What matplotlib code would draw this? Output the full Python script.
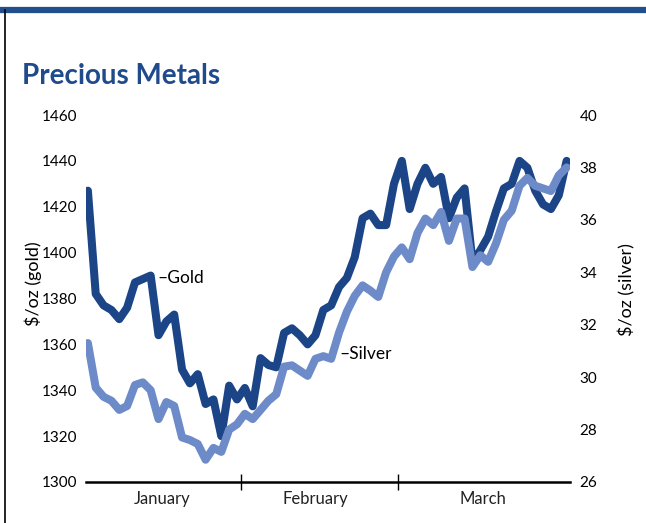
import matplotlib.pyplot as plt
from matplotlib.lines import Line2D

# daily closes, Jan-Mar
gold = [1427, 1382, 1377, 1375, 1371, 1376, 1387, 1388.5, 1390, 1364,
        1370, 1373, 1349, 1343, 1347, 1334, 1336, 1320, 1342, 1336,
        1341, 1333, 1354, 1351, 1350, 1365, 1367, 1364, 1360, 1364,
        1375, 1377, 1385, 1389, 1398, 1415, 1417, 1412, 1412, 1430,
        1440, 1419, 1430, 1437, 1430, 1433, 1415, 1424, 1428, 1396,
        1401, 1407, 1418, 1428, 1430, 1440, 1437, 1427, 1421, 1419,
        1425, 1440]
silver = [31.3, 29.6, 29.25, 29.1, 28.75, 28.9, 29.7, 29.8, 29.5, 28.4,
          29.05, 28.9, 27.7, 27.6, 27.45, 26.85, 27.3, 27.15, 28.0, 28.2,
          28.6, 28.4, 28.75, 29.1, 29.35, 30.4, 30.45, 30.25, 30.05, 30.7,
          30.8, 30.7, 31.7, 32.5, 33.1, 33.5, 33.3, 33.06, 34.0, 34.6,
          34.95, 34.5, 35.5, 36.05, 35.8, 36.3, 35.2, 36.05, 36.05, 34.2,
          34.65, 34.4, 35.1, 36.0, 36.35, 37.3, 37.6, 37.3, 37.2, 37.1,
          37.7, 38.0]
months = ['January', 'February', 'March']
month_centers = [9.5, 29, 50.3]
month_edges = [19.5, 39.5]
gold_ticks = [1300, 1320, 1340, 1360, 1380, 1400, 1420, 1440, 1460]
silver_ticks = [26, 28, 30, 32, 34, 36, 38, 40]

plt.rcParams['font.family'] = ['Lato', 'DejaVu Sans']
dark = '#1b4587'
light = '#6d8bc8'

fig = plt.figure(figsize=(6.46, 5.23), dpi=100)
ax = fig.add_axes([0.133, 0.0784, 0.749, 0.7017])
ax2 = ax.twinx()

days = list(range(len(gold)))
ax.plot(days, gold, color=dark, lw=5.8, solid_capstyle='round')
ax2.plot(days, silver, color=light, lw=5.8, solid_capstyle='round')

ax.set_xlim(-0.25, 61.4)
ax.set_ylim(1300, 1460)
ax2.set_ylim(26, 40)
ax.set_yticks(gold_ticks)
ax2.set_yticks(silver_ticks)

for a in (ax, ax2):
    for s in a.spines.values():
        s.set_visible(False)
ax.tick_params(axis='y', length=0, labelsize=11, pad=6)
ax2.tick_params(axis='y', length=0, labelsize=11, pad=7)
ax.spines['bottom'].set_visible(True)
ax.spines['bottom'].set_linewidth(1.8)

ax.set_xticks(month_edges)
ax.set_xticklabels([])
ax.tick_params(axis='x', direction='inout', length=11, width=1)
for c, m in zip(month_centers, months):
    ax.text(c, -0.045, m, transform=ax.get_xaxis_transform(),
            ha='center', va='center', fontsize=12, color='#222222')

ax.set_ylabel('$/oz (gold)', fontsize=13)
ax.yaxis.set_label_coords(-0.09, 0.54)
ax2.set_ylabel('$/oz (silver)', fontsize=13)
ax2.yaxis.set_label_coords(1.1, 0.525)

ax.text(8.9, 1389, '\u2013Gold', fontsize=12.5, va='center', ha='left')
ax2.text(32.0, 30.9, '\u2013Silver', fontsize=12.5, va='center', ha='left')

fig.text(0.034, 0.84, 'Precious Metals', fontsize=20, fontweight='bold',
         color='#1f4b8c', ha='left', va='baseline')

# frame: blue band on top, thin rule on the left
fig.add_artist(Line2D([0, 1], [0.981, 0.981], color='#244f8f', lw=4.5,
                      transform=fig.transFigure))
fig.add_artist(Line2D([0.008, 0.008], [0, 0.981], color='black', lw=1.2,
                      transform=fig.transFigure))

fig.savefig('out.png', dpi=100)
